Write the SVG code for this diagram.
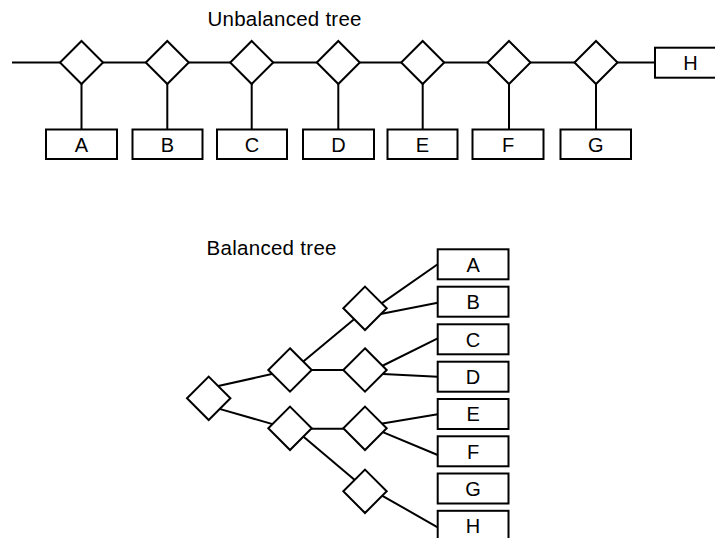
<svg xmlns="http://www.w3.org/2000/svg" width="715" height="538" viewBox="0 0 715 538">
<style>
.ln{stroke:#000;stroke-width:2;fill:none}
.dm{stroke:#000;stroke-width:2;fill:#fff;stroke-linejoin:miter}
.bx{stroke:#000;stroke-width:2;fill:#fff}
.lb{font-family:"Liberation Sans",Arial,sans-serif;font-size:20px;fill:#000;text-anchor:middle}
.tt{font-family:"Liberation Sans",Arial,sans-serif;font-size:20.5px;fill:#000}
</style>
<defs>
<path id="d" d="M0,-21.5 L21.5,0 L0,21.5 L-21.5,0 Z"/>
<path id="d2" d="M0,-21.7 L21.7,0 L0,21.7 L-21.7,0 Z"/>
</defs>
<rect width="715" height="538" fill="#fff"/>
<text class="tt" x="207.5" y="26" textLength="154">Unbalanced tree</text>
<text class="tt" x="206.5" y="255" textLength="130">Balanced tree</text>
<g id="connectors">
<path class="ln" d="M12,62.5 H655"/>
<path class="ln" d="M81.5,62.5 V129.5 M167.3,62.5 V129.5 M251.7,62.5 V129.5 M338.3,62.5 V129.5 M422.7,62.5 V129.5 M509,62.5 V129.5 M596,62.5 V129.5"/>
<path class="ln" d="M216,386.6 L274,373.6"/>
<path class="ln" d="M216,407.9 L276,425.1"/>
<path class="ln" d="M300,364.3 L358,316"/>
<path class="ln" d="M300,370 H355"/>
<path class="ln" d="M300,428.8 H355"/>
<path class="ln" d="M300,433.7 L358,482.7"/>
<path class="ln" d="M378,305.9 L437.7,264.3"/>
<path class="ln" d="M378,314.4 L437.7,302.7"/>
<path class="ln" d="M378,368 L437.7,338.3"/>
<path class="ln" d="M378,373.7 L437.7,376.7"/>
<path class="ln" d="M378,424.3 L437.7,414.3"/>
<path class="ln" d="M378,430.2 L437.7,455"/>
<path class="ln" d="M378,493.3 L437.7,527.3"/>
</g>
<g id="u1"><use href="#d" class="dm" x="81.5" y="62.5"/></g>
<g id="u2"><use href="#d" class="dm" x="167.3" y="62.5"/></g>
<g id="u3"><use href="#d" class="dm" x="251.7" y="62.5"/></g>
<g id="u4"><use href="#d" class="dm" x="338.3" y="62.5"/></g>
<g id="u5"><use href="#d" class="dm" x="422.7" y="62.5"/></g>
<g id="u6"><use href="#d" class="dm" x="509" y="62.5"/></g>
<g id="u7"><use href="#d" class="dm" x="596" y="62.5"/></g>
<g id="uA"><rect class="bx" x="46" y="129.5" width="71" height="29.5"/><text class="lb" x="81.5" y="151.5">A</text></g>
<g id="uB"><rect class="bx" x="132.5" y="129.5" width="70" height="29.5"/><text class="lb" x="167.5" y="151.5">B</text></g>
<g id="uC"><rect class="bx" x="217" y="129.5" width="70" height="29.5"/><text class="lb" x="252" y="151.5">C</text></g>
<g id="uD"><rect class="bx" x="303" y="129.5" width="71" height="29.5"/><text class="lb" x="338.5" y="151.5">D</text></g>
<g id="uE"><rect class="bx" x="387.5" y="129.5" width="70" height="29.5"/><text class="lb" x="422.5" y="151.5">E</text></g>
<g id="uF"><rect class="bx" x="472.5" y="129.5" width="71" height="29.5"/><text class="lb" x="508" y="151.5">F</text></g>
<g id="uG"><rect class="bx" x="560.5" y="129.5" width="70.5" height="29.5"/><text class="lb" x="595.8" y="151.5">G</text></g>
<g id="uH"><rect class="bx" x="655" y="47.7" width="71" height="30"/><text class="lb" x="690.5" y="69.7">H</text></g>
<g id="b0"><use href="#d2" class="dm" x="208.7" y="398.3"/></g>
<g id="b1"><use href="#d2" class="dm" x="290" y="370"/></g>
<g id="b2"><use href="#d2" class="dm" x="290" y="428.3"/></g>
<g id="b3"><use href="#d2" class="dm" x="365" y="308.3"/></g>
<g id="b4"><use href="#d2" class="dm" x="365" y="370"/></g>
<g id="b5"><use href="#d2" class="dm" x="365" y="428.3"/></g>
<g id="b6"><use href="#d2" class="dm" x="365" y="491.3"/></g>
<g id="bA"><rect class="bx" x="437.7" y="249.3" width="70.8" height="30"/><text class="lb" x="473.1" y="271.5">A</text></g>
<g id="bB"><rect class="bx" x="437.7" y="286.7" width="70.8" height="30"/><text class="lb" x="473.1" y="308.9">B</text></g>
<g id="bC"><rect class="bx" x="437.7" y="324.3" width="70.8" height="30"/><text class="lb" x="473.1" y="346.5">C</text></g>
<g id="bD"><rect class="bx" x="437.7" y="361.7" width="70.8" height="30"/><text class="lb" x="473.1" y="383.9">D</text></g>
<g id="bE"><rect class="bx" x="437.7" y="399" width="70.8" height="30"/><text class="lb" x="473.1" y="421.2">E</text></g>
<g id="bF"><rect class="bx" x="437.7" y="436.3" width="70.8" height="30"/><text class="lb" x="473.1" y="458.5">F</text></g>
<g id="bG"><rect class="bx" x="437.7" y="473.5" width="70.8" height="30"/><text class="lb" x="473.1" y="495.7">G</text></g>
<g id="bH"><rect class="bx" x="437.7" y="510.8" width="70.8" height="30"/><text class="lb" x="473.1" y="533">H</text></g>
</svg>
